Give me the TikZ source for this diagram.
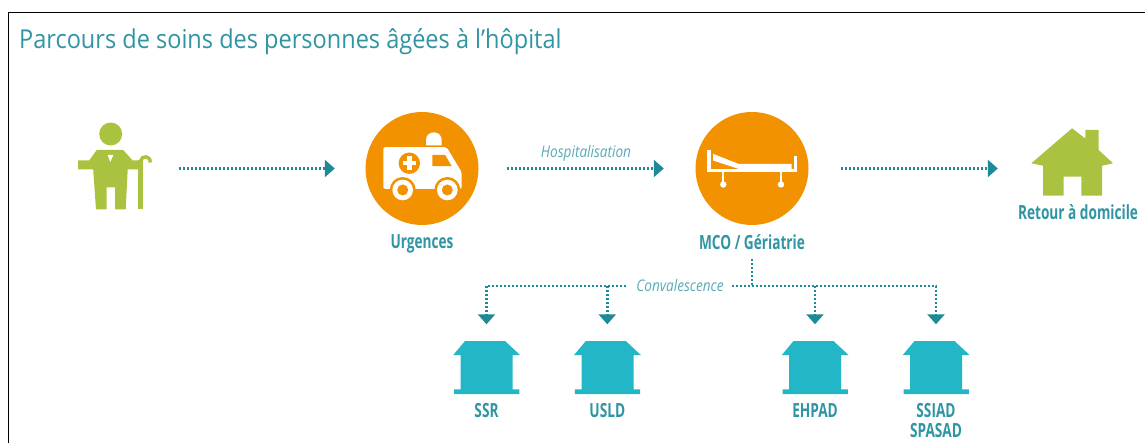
\documentclass[tikz,border=0pt]{standalone}
\usepackage{fontspec}
\usepackage{tikz}
\usetikzlibrary{arrows.meta,positioning}
\setmainfont{Open Sans}
\newfontfamily\titlefont[FakeStretch=0.905]{Open Sans}
\newfontfamily\labelfont[FakeStretch=0.7]{Open Sans}
\newfontfamily\flowfont[FakeStretch=0.85]{Open Sans}
\definecolor{tealtext}{HTML}{2F95A3}
\definecolor{tealline}{HTML}{1E8A96}
\definecolor{sickorange}{HTML}{F39200}
\definecolor{leafgreen}{HTML}{A9C23F}
\definecolor{wardblue}{HTML}{22B6C6}

\tikzset{
elder/.pic={
  \fill[leafgreen] (0,0) circle (11.5);
  \fill[leafgreen] (-32.5,26.5) -- (-21.5,26.5) -- (-14,16) -- (12.5,16) -- (22,26.5) -- (27.5,26.5) -- (27.5,35.5) -- (17,35.5) -- (15,75.5) -- (4.5,75.5) -- (4.5,53.5) -- (-4,53.5) -- (-4,75.5) -- (-14.7,75.5) -- (-17.5,35.5) -- (-32.5,35.5) -- cycle;
  \fill[white] (-3,21) -- (2.6,21) -- (-0.4,28) -- cycle;
  \fill[leafgreen] (27.5,26) rectangle (32.5,75.5);
  \draw[leafgreen, line width=3.4pt] (30,26.5) .. controls (31,21.5) and (40,21) .. (39.5,28.5);
},
ambulance/.pic={
  \fill[white] (4,-23) -- (4,-28.5) .. controls (4,-38.7) and (19.7,-38.7) .. (19.7,-28.5) -- (19.7,-23) -- cycle;
  \fill[white, rounded corners=2pt] (-38.7,-21.3) -- (24.7,-21.3) -- (39.7,3.7) -- (39.7,20.3) -- (-38.7,20.3) -- cycle;
  \fill[sickorange] (10.3,-13.7) -- (23,-13.7) -- (29.7,-2.3) -- (10.3,-2.3) -- cycle;
  \fill[sickorange] (-12.7,-5.3) circle (10.7);
  \fill[white] (-15,-12) rectangle (-10.4,1.4);
  \fill[white] (-19.4,-7.6) rectangle (-6,-3);
  \foreach \wheelx in {-19.3,25.3} {
    \fill[sickorange] (\wheelx,21.5) circle (13);
    \fill[white] (\wheelx,21.5) circle (10.3);
    \fill[sickorange] (\wheelx,21.5) circle (5.5);
  }
},
bed/.pic={
  \fill[white] (-45,-18) rectangle (-41,3);
  \fill[white] (42.3,-12) rectangle (45.3,3);
  \fill[white] (-45,1) rectangle (45.3,3.2);
  \fill[white] (-39,-14.7) -- (-13.7,-4.7) -- (39.7,-4.7) -- (39.7,0.3) -- (-13.7,0.3) -- (-39,-8) -- cycle;
  \foreach \legx in {-28.7,29} {
    \fill[white] (\legx-1,3) rectangle (\legx+1,14);
    \fill[white] (\legx,16) circle (3.2);
  }
},
homeicon/.pic={
  \fill[leafgreen] (0,-33.7) -- (13.3,-23.5) -- (13.3,-32) -- (26.6,-32) -- (26.6,-12) -- (41,1.3) -- (30,3.7) -- (30,33.7) -- (9.3,33.7) -- (9.3,14.7) -- (-8.4,14.7) -- (-8.4,33.7) -- (-29,33.7) -- (-29,3.7) -- (-40.7,1.3) -- cycle;
},
ward/.pic={
  \fill[wardblue] (-21.5,-26.5) -- (18.5,-26.5) -- (33.5,-12.5) -- (26.2,-12.5) -- (26.2,21.8) -- (32.8,21.8) -- (32.8,26.5) -- (-32.5,26.5) -- (-32.5,21.8) -- (-25.8,21.8) -- (-25.8,-12.5) -- (-33.2,-12.5) -- cycle;
},
roundnode/.style={circle, fill=sickorange, minimum size=113pt, inner sep=0pt},
iconnode/.style={inner sep=0pt, minimum width=66pt, minimum height=53pt},
boldlabel/.style={text=tealtext, inner sep=0pt, font=\labelfont\bfseries\fontsize{19.5}{20}\selectfont, align=center},
flowlabel/.style={text=tealtext!80, inner sep=0pt, font=\flowfont\itshape\fontsize{16}{18}\selectfont},
dotline/.style={draw=tealline, line width=2.6pt, dash pattern=on 2pt off 2pt},
flow/.style={dotline, -{Triangle[length=10pt,width=17pt,fill=tealline]}},
}

\begin{document}
\begin{tikzpicture}[x=1pt,y=-1pt]
\useasboundingbox (0,0) rectangle (1145,443);
%Frame
\draw[black, line width=1.5pt] (8.5,443) -- (8.5,12.5) -- (1145,12.5);
\node[anchor=west, text=tealtext, inner sep=0pt, font=\titlefont\fontsize{26}{28}\selectfont] (title) at (19,42) {Parcours de soins des personnes âgées à l’hôpital};

%Nodes
\node[inner sep=0pt, minimum width=74pt, minimum height=88pt] (person) at (115,168.5) {};
\pic at (110.7,134) {elder};
\node[roundnode] (urgences) at (422,168.5) {};
\pic at (urgences) {ambulance};
\node[roundnode] (mco) at (752,168.5) {};
\pic at (mco) {bed};
\node[inner sep=0pt, minimum width=82pt, minimum height=67pt] (home) at (1072,162) {};
\pic at (home) {homeicon};
\node[boldlabel] (urgenceslabel) [below=9pt of urgences] {Urgences};
\node[boldlabel] (mcolabel) [below=9pt of mco] {MCO / Gériatrie};
\node[boldlabel] (homelabel) [below=9pt of home, xshift=6pt] {Retour à domicile};

\node[iconnode] (ssr) at (486.5,367.5) {};
\node[iconnode] (usld) at (607.3,367.5) {};
\node[iconnode] (ehpad) at (815,367.5) {};
\node[iconnode] (ssiad) at (936,367.5) {};
\foreach \wardname in {ssr,usld,ehpad,ssiad} {
  \pic at (\wardname) {ward};
}
\node[boldlabel] (ssrlabel) [below=9pt of ssr] {SSR};
\node[boldlabel] (usldlabel) [below=9pt of usld] {USLD};
\node[boldlabel] (ehpadlabel) [below=9pt of ehpad] {EHPAD};
\node[boldlabel] (ssiadlabel) [below=9pt of ssiad] {SSIAD\\SPASAD};

\node[flowlabel] (hospit) at (586,153) {Hospitalisation};
\node[flowlabel] (conv) at (680,286) {Convalescence};

%Lines
\draw[flow, shorten <=27pt, shorten >=30.5pt] (person.east) -- (urgences.west);
\draw[flow, shorten <=28.5pt, shorten >=31.5pt] (urgences.east) -- (mco.west);
\draw[flow, shorten <=32.5pt, shorten >=33pt] (mco.east) -- (home.west |- mco.east);
\draw[dotline, shorten <=9pt] (mcolabel.south) -- (mcolabel.south |- conv.east);
\draw[flow, shorten <=10pt, shorten >=16.5pt] (conv.west) -| (ssr.north);
\draw[flow, shorten >=16.5pt] (usld.north |- conv.west) -- (usld.north);
\draw[flow, shorten <=8pt, shorten >=16.5pt] (conv.east) -| (ssiad.north);
\draw[flow, shorten >=16.5pt] (ehpad.north |- conv.east) -- (ehpad.north);
\end{tikzpicture}
\end{document}
